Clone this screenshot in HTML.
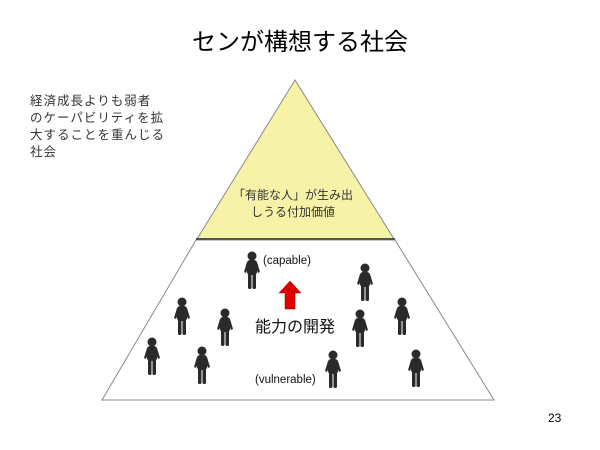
<!DOCTYPE html>
<html><head><meta charset="utf-8"><style>
body{margin:0;background:#fff;}
svg{display:block;font-family:"Liberation Sans","Noto Sans CJK JP",sans-serif;}
</style></head><body>
<svg width="600" height="450" viewBox="0 0 600 450">
<defs>
<g id="p" fill="#2a2a2a">
<circle cx="0" cy="0" r="4.5"/>
<rect x="-5" y="4" width="10" height="15" rx="3"/>
<path d="M-5,6 L-8,16 L-6,17 L-3,9 Z M5,6 L8,16 L6,17 L3,9 Z"/>
<rect x="-4" y="17" width="3.5" height="16" rx="1.5"/>
<rect x="0.5" y="17" width="3.5" height="16" rx="1.5"/>
</g>
</defs>
<text x="300" y="50" font-size="24" text-anchor="middle" fill="#000">センが構想する社会</text>
<g font-size="12.5" fill="#333" letter-spacing="1">
<text x="30" y="105">経済成長よりも弱者</text>
<text x="30" y="122">のケーパビリティを拡</text>
<text x="30" y="139">大することを重んじる</text>
<text x="30" y="156">社会</text>
</g>
<polygon points="295,80 197,239 394,239" fill="#f6f3a8" stroke="#888" stroke-width="1"/>
<line x1="196" y1="239" x2="395" y2="239" stroke="#222" stroke-width="1.5"/>
<polygon points="196,240 395,240 494,400 102,400" fill="#fff" stroke="#888" stroke-width="1"/>
<g font-size="12" fill="#333" text-anchor="middle">
<text x="293" y="199">「有能な人」が生み出</text>
<text x="293" y="216">しうる付加価値</text>
</g>
<text x="263" y="264" font-size="11.5" fill="#111">(capable)</text>
<text x="255" y="383" font-size="11.5" fill="#111">(vulnerable)</text>
<text x="295" y="332" font-size="16" text-anchor="middle" fill="#111">能力の開発</text>
<polygon points="290,281 301,293 295,293 295,309 285,309 285,293 279,293" fill="#e00000" stroke="#900" stroke-width="0.5"/>
<use href="#p" x="252" y="256"/>
<use href="#p" x="365" y="268"/>
<use href="#p" x="182" y="302"/>
<use href="#p" x="225" y="313"/>
<use href="#p" x="360" y="314"/>
<use href="#p" x="402" y="302"/>
<use href="#p" x="152" y="342"/>
<use href="#p" x="202" y="351"/>
<use href="#p" x="333" y="355"/>
<use href="#p" x="416" y="354"/>
<text x="548" y="422" font-size="12" fill="#000">23</text>
</svg>
</body></html>
